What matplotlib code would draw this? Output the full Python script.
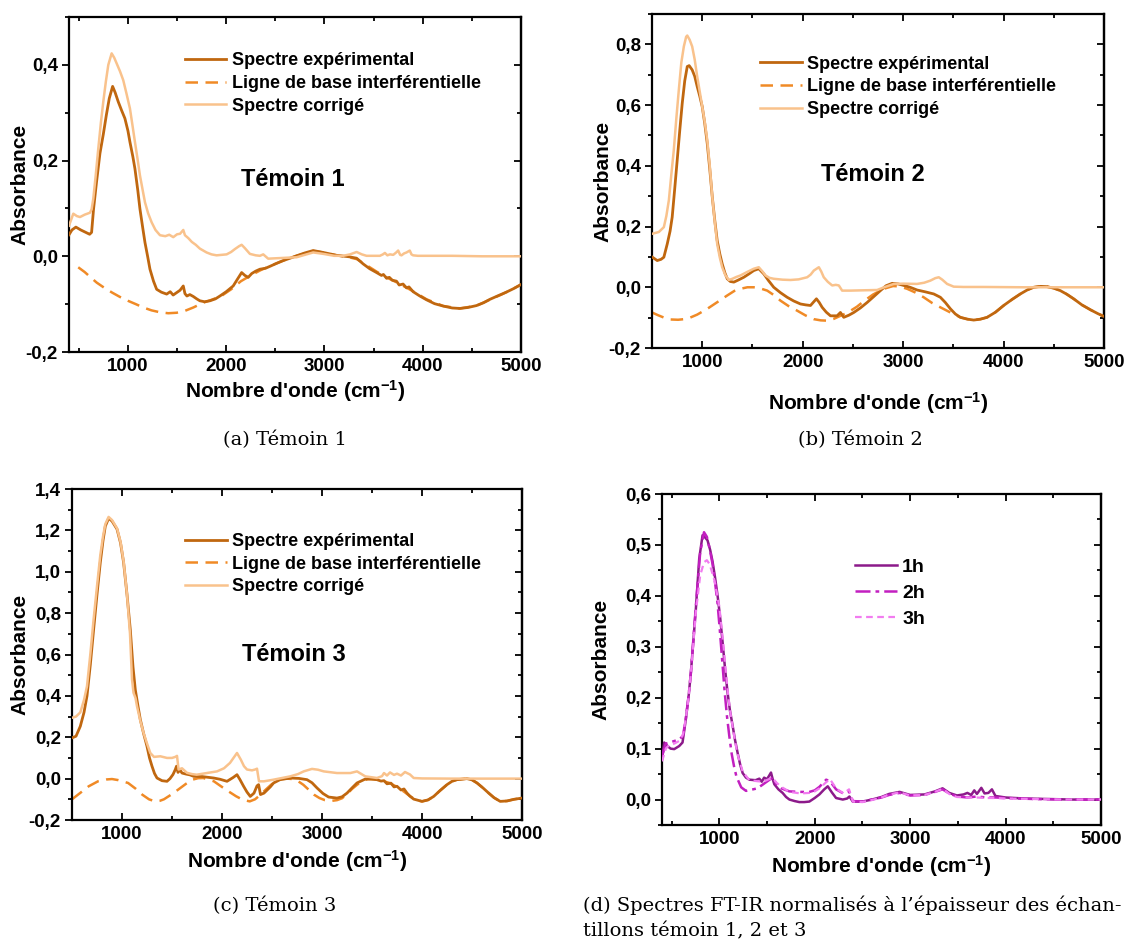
import numpy as np
import matplotlib
matplotlib.use('Agg')
import matplotlib.pyplot as plt
from matplotlib.ticker import MultipleLocator, FuncFormatter

plt.rcParams['font.family'] = ['Liberation Sans', 'DejaVu Sans']
plt.rcParams['font.weight'] = 'bold'
plt.rcParams['mathtext.fontset'] = 'custom'
plt.rcParams['mathtext.rm'] = 'Liberation Sans:bold'
plt.rcParams['mathtext.bf'] = 'Liberation Sans:bold'
plt.rcParams['mathtext.default'] = 'rm'

# ---- data: [wavenumber (cm-1), absorbance] ----
# (a) Temoin 1
a_exp = np.array([[400, 0.045], [430, 0.055], [470, 0.061], [520, 0.055], [570, 0.050], [610, 0.046], [630, 0.050],
    [650, 0.099], [680, 0.155], [715, 0.215], [750, 0.256], [780, 0.295], [810, 0.330], [844, 0.355], [870, 0.342],
    [901, 0.323], [935, 0.305], [969, 0.288], [1000, 0.262], [1020, 0.239], [1050, 0.208], [1071, 0.183],
    [1100, 0.138], [1122, 0.099], [1150, 0.060], [1173, 0.029], [1200, 0.000], [1224, -0.027], [1260, -0.052],
    [1292, -0.069], [1340, -0.075], [1394, -0.079], [1430, -0.074], [1460, -0.081], [1495, -0.076], [1530, -0.071],
    [1563, -0.062], [1580, -0.078], [1600, -0.083], [1630, -0.080], [1665, -0.084], [1700, -0.089], [1732, -0.093],
    [1780, -0.095], [1834, -0.093], [1890, -0.089], [1936, -0.083], [2000, -0.074], [2071, -0.062], [2120, -0.046],
    [2157, -0.034], [2190, -0.040], [2224, -0.044], [2260, -0.036], [2300, -0.031], [2343, -0.027], [2400, -0.025],
    [2445, -0.021], [2510, -0.015], [2580, -0.009], [2650, -0.004], [2716, 0.001], [2800, 0.007], [2885, 0.012],
    [2987, 0.008], [3123, 0.002], [3250, -0.001], [3327, -0.004], [3394, -0.016], [3460, -0.026], [3530, -0.034],
    [3580, -0.040], [3600, -0.038], [3632, -0.046], [3660, -0.044], [3690, -0.050], [3733, -0.052], [3760, -0.060],
    [3800, -0.058], [3835, -0.066], [3860, -0.064], [3902, -0.074], [3970, -0.083], [4039, -0.091], [4120, -0.099],
    [4208, -0.104], [4300, -0.108], [4377, -0.109], [4460, -0.107], [4547, -0.103], [4620, -0.097], [4683, -0.090],
    [4760, -0.083], [4850, -0.075], [4930, -0.067], [5000, -0.059]])
a_base = np.array([[494, -0.023], [560, -0.033], [620, -0.044], [682, -0.055], [760, -0.066], [840, -0.076],
    [919, -0.085], [1000, -0.093], [1080, -0.100], [1156, -0.107], [1240, -0.113], [1326, -0.117], [1410, -0.119],
    [1495, -0.118], [1580, -0.114], [1665, -0.107], [1766, -0.097], [1850, -0.091], [1950, -0.083], [2050, -0.069],
    [2150, -0.052], [2250, -0.040], [2350, -0.029], [2450, -0.020], [2580, -0.009], [2716, 0.001], [2885, 0.011],
    [2987, 0.008], [3123, 0.002], [3250, -0.002], [3330, -0.006], [3400, -0.015], [3530, -0.032], [3630, -0.044],
    [3730, -0.054], [3830, -0.065], [3900, -0.073], [4040, -0.090], [4210, -0.104], [4380, -0.109], [4550, -0.103],
    [4690, -0.090], [4800, -0.080], [4900, -0.070], [5000, -0.059]])
a_corr = np.array([[400, 0.064], [444, 0.089], [480, 0.084], [512, 0.082], [560, 0.087], [613, 0.091], [630, 0.098],
    [647, 0.120], [670, 0.165], [698, 0.225], [725, 0.280], [749, 0.323], [775, 0.365], [800, 0.400], [834, 0.424],
    [860, 0.415], [885, 0.403], [920, 0.386], [952, 0.368], [985, 0.340], [1020, 0.309], [1045, 0.275], [1071, 0.239],
    [1100, 0.200], [1122, 0.169], [1150, 0.138], [1173, 0.113], [1205, 0.090], [1241, 0.071], [1280, 0.055],
    [1326, 0.044], [1380, 0.042], [1420, 0.045], [1461, 0.040], [1500, 0.046], [1530, 0.047], [1563, 0.055],
    [1580, 0.044], [1614, 0.038], [1650, 0.030], [1690, 0.024], [1732, 0.016], [1800, 0.008], [1850, 0.004],
    [1902, 0.002], [2004, 0.004], [2050, 0.009], [2088, 0.015], [2130, 0.021], [2157, 0.024], [2190, 0.017],
    [2241, 0.005], [2300, 0.002], [2343, 0.001], [2377, 0.004], [2427, -0.005], [2520, -0.004], [2620, -0.003],
    [2716, -0.002], [2800, 0.003], [2885, 0.008], [2990, 0.005], [3100, 0.001], [3190, 0.001], [3260, 0.004],
    [3327, 0.009], [3380, 0.004], [3428, 0.001], [3564, 0.001], [3595, 0.004], [3615, 0.007], [3640, 0.002],
    [3666, 0.004], [3700, 0.003], [3730, 0.008], [3750, 0.012], [3770, 0.003], [3784, 0.002], [3810, 0.006],
    [3835, 0.008], [3868, 0.012], [3885, 0.004], [3902, 0.002], [3950, 0.001], [4100, 0.001], [4300, 0.001],
    [4600, 0.000], [5000, 0.000]])

# (b) Temoin 2
b_exp = np.array([[500, 0.100], [552, 0.088], [590, 0.092], [618, 0.099], [652, 0.143], [680, 0.185], [701, 0.231],
    [725, 0.320], [751, 0.419], [776, 0.515], [801, 0.606], [826, 0.680], [851, 0.727], [870, 0.730], [900, 0.716],
    [925, 0.695], [950, 0.661], [975, 0.630], [1000, 0.595], [1025, 0.540], [1050, 0.474], [1075, 0.390],
    [1100, 0.298], [1125, 0.220], [1149, 0.154], [1175, 0.110], [1199, 0.077], [1225, 0.048], [1249, 0.028],
    [1280, 0.019], [1315, 0.017], [1360, 0.024], [1414, 0.033], [1465, 0.044], [1513, 0.055], [1563, 0.061],
    [1613, 0.044], [1660, 0.022], [1712, 0.000], [1780, -0.018], [1846, -0.033], [1910, -0.045], [1978, -0.055],
    [2030, -0.058], [2078, -0.060], [2110, -0.048], [2137, -0.038], [2165, -0.050], [2194, -0.066], [2235, -0.082],
    [2277, -0.094], [2343, -0.094], [2376, -0.083], [2409, -0.099], [2460, -0.092], [2509, -0.083], [2575, -0.068],
    [2642, -0.050], [2710, -0.030], [2774, -0.011], [2830, 0.005], [2891, 0.013], [2950, 0.011], [3006, 0.006],
    [3070, 0.000], [3139, -0.009], [3220, -0.015], [3305, -0.022], [3371, -0.033], [3420, -0.050], [3471, -0.071],
    [3520, -0.088], [3570, -0.099], [3640, -0.105], [3703, -0.108], [3770, -0.105], [3836, -0.099], [3920, -0.082],
    [4001, -0.060], [4085, -0.040], [4167, -0.022], [4235, -0.009], [4300, 0.000], [4370, 0.003], [4433, 0.002],
    [4500, -0.003], [4565, -0.011], [4630, -0.023], [4698, -0.038], [4780, -0.058], [4870, -0.075], [4940, -0.087],
    [5000, -0.096]])
b_base = np.array([[500, -0.083], [560, -0.092], [620, -0.100], [680, -0.106], [760, -0.107], [851, -0.104],
    [950, -0.090], [1050, -0.071], [1150, -0.049], [1249, -0.027], [1320, -0.012], [1381, -0.005], [1450, 0.000],
    [1513, 0.000], [1580, -0.004], [1647, -0.011], [1710, -0.025], [1779, -0.044], [1860, -0.062], [1945, -0.077],
    [2030, -0.093], [2111, -0.105], [2180, -0.109], [2244, -0.110], [2310, -0.104], [2376, -0.094], [2450, -0.083],
    [2540, -0.064], [2620, -0.043], [2700, -0.024], [2807, -0.005], [2900, 0.004], [2960, 0.003], [3040, -0.005],
    [3120, -0.017], [3205, -0.033], [3290, -0.052], [3371, -0.066], [3471, -0.083], [3570, -0.099], [3640, -0.105],
    [3703, -0.108], [3770, -0.105], [3836, -0.099], [3920, -0.082], [4001, -0.060], [4085, -0.040], [4167, -0.022],
    [4235, -0.009], [4300, 0.000], [4370, 0.003], [4433, 0.002], [4500, -0.003], [4565, -0.011], [4630, -0.023],
    [4698, -0.038], [4780, -0.058], [4870, -0.075], [4940, -0.087], [5000, -0.096]])
b_corr = np.array([[500, 0.176], [568, 0.182], [618, 0.198], [643, 0.235], [668, 0.287], [692, 0.370], [717, 0.452],
    [742, 0.555], [767, 0.650], [792, 0.740], [817, 0.793], [840, 0.825], [851, 0.829], [875, 0.815], [900, 0.793],
    [925, 0.750], [950, 0.694], [975, 0.645], [1000, 0.595], [1025, 0.545], [1050, 0.485], [1075, 0.400],
    [1100, 0.298], [1125, 0.215], [1149, 0.143], [1175, 0.098], [1199, 0.066], [1230, 0.040], [1265, 0.024],
    [1300, 0.028], [1340, 0.034], [1381, 0.039], [1445, 0.050], [1513, 0.061], [1563, 0.066], [1600, 0.052],
    [1630, 0.039], [1670, 0.031], [1712, 0.028], [1800, 0.025], [1879, 0.024], [1960, 0.026], [2045, 0.033],
    [2080, 0.042], [2111, 0.055], [2161, 0.066], [2185, 0.052], [2210, 0.033], [2250, 0.018], [2294, 0.006],
    [2330, 0.008], [2360, 0.006], [2393, -0.011], [2476, -0.011], [2600, -0.010], [2741, -0.009], [2820, 0.001],
    [2907, 0.011], [3000, 0.012], [3139, 0.011], [3210, 0.015], [3272, 0.022], [3320, 0.030], [3355, 0.033],
    [3390, 0.025], [3438, 0.011], [3504, 0.002], [3600, 0.001], [3800, 0.001], [4200, 0.000], [5000, 0.000]])

# (c) Temoin 3
c_exp = np.array([[500, 0.197], [540, 0.205], [583, 0.253], [620, 0.320], [650, 0.400], [683, 0.550], [716, 0.720],
    [750, 0.890], [783, 1.045], [810, 1.150], [833, 1.220], [866, 1.258], [900, 1.245], [950, 1.206], [985, 1.140],
    [1016, 1.045], [1050, 0.890], [1083, 0.720], [1110, 0.540], [1133, 0.430], [1160, 0.350], [1183, 0.286],
    [1215, 0.220], [1250, 0.156], [1275, 0.100], [1300, 0.060], [1325, 0.025], [1350, 0.003], [1400, -0.010],
    [1450, -0.013], [1480, 0.000], [1510, 0.020], [1533, 0.044], [1545, 0.060], [1560, 0.030], [1580, 0.042],
    [1600, 0.027], [1640, 0.022], [1680, 0.018], [1717, 0.011], [1800, 0.010], [1916, 0.003], [1980, -0.003],
    [2050, -0.013], [2110, 0.005], [2150, 0.019], [2180, -0.005], [2216, -0.037], [2250, -0.065], [2283, -0.086],
    [2320, -0.070], [2350, -0.035], [2366, -0.029], [2385, -0.077], [2420, -0.070], [2483, -0.040], [2516, -0.021],
    [2580, -0.005], [2683, 0.003], [2770, 0.001], [2850, -0.005], [2900, -0.020], [2950, -0.045], [3010, -0.072],
    [3066, -0.089], [3150, -0.094], [3200, -0.088], [3250, -0.070], [3300, -0.045], [3350, -0.021], [3433, -0.002],
    [3490, -0.002], [3550, -0.005], [3590, -0.012], [3620, -0.010], [3650, -0.025], [3690, -0.022], [3720, -0.040],
    [3750, -0.037], [3790, -0.055], [3820, -0.050], [3850, -0.070], [3880, -0.085], [3917, -0.099], [4000, -0.110],
    [4060, -0.103], [4117, -0.086], [4180, -0.058], [4250, -0.029], [4300, -0.013], [4350, -0.005], [4450, 0.000],
    [4500, -0.006], [4550, -0.021], [4610, -0.045], [4667, -0.070], [4720, -0.092], [4782, -0.110], [4850, -0.108],
    [4920, -0.100], [5000, -0.094]])
c_base = np.array([[500, -0.100], [580, -0.070], [667, -0.037], [760, -0.013], [846, -0.004], [900, -0.002],
    [960, -0.007], [1061, -0.021], [1140, -0.050], [1204, -0.078], [1270, -0.100], [1329, -0.110], [1380, -0.107],
    [1419, -0.100], [1490, -0.078], [1562, -0.053], [1640, -0.025], [1705, -0.005], [1760, 0.002], [1812, 0.003],
    [1870, -0.005], [1919, -0.013], [1990, -0.037], [2063, -0.061], [2140, -0.085], [2206, -0.102], [2277, -0.110],
    [2330, -0.100], [2385, -0.078], [2440, -0.052], [2492, -0.029], [2540, -0.012], [2599, -0.002], [2650, 0.000],
    [2707, -0.002], [2760, -0.012], [2814, -0.030], [2870, -0.055], [2921, -0.078], [2975, -0.094], [3029, -0.104],
    [3090, -0.108], [3150, -0.104], [3200, -0.095], [3250, -0.075], [3300, -0.050], [3350, -0.030], [3400, -0.012],
    [3458, -0.002], [3520, -0.003], [3600, -0.010], [3680, -0.022], [3750, -0.040], [3820, -0.063], [3880, -0.085],
    [3940, -0.103], [4000, -0.110], [4060, -0.103], [4117, -0.086], [4180, -0.058], [4250, -0.029], [4300, -0.013],
    [4350, -0.005], [4450, 0.000], [4500, -0.006], [4550, -0.021], [4610, -0.045], [4667, -0.070], [4720, -0.092],
    [4782, -0.110], [4850, -0.108], [4920, -0.100], [5000, -0.094]])
c_corr = np.array([[500, 0.294], [540, 0.300], [583, 0.320], [620, 0.380], [650, 0.447], [683, 0.600], [716, 0.770],
    [750, 0.930], [783, 1.080], [810, 1.170], [833, 1.230], [866, 1.265], [900, 1.250], [950, 1.210], [985, 1.145],
    [1016, 1.050], [1050, 0.890], [1080, 0.700], [1100, 0.480], [1115, 0.415], [1135, 0.390], [1150, 0.350],
    [1183, 0.280], [1216, 0.220], [1250, 0.170], [1283, 0.124], [1320, 0.105], [1383, 0.108], [1450, 0.100],
    [1500, 0.100], [1533, 0.105], [1550, 0.110], [1566, 0.044], [1600, 0.050], [1650, 0.028], [1700, 0.022],
    [1747, 0.019], [1848, 0.027], [1950, 0.035], [2020, 0.050], [2080, 0.076], [2150, 0.124], [2188, 0.092],
    [2220, 0.060], [2250, 0.044], [2300, 0.040], [2331, 0.044], [2350, 0.048], [2370, -0.013], [2420, -0.013],
    [2516, -0.005], [2600, 0.003], [2683, 0.011], [2760, 0.022], [2817, 0.035], [2900, 0.047], [2960, 0.043],
    [3017, 0.035], [3150, 0.027], [3283, 0.027], [3350, 0.035], [3433, 0.011], [3550, 0.003], [3600, 0.012],
    [3620, 0.027], [3650, 0.015], [3680, 0.030], [3720, 0.018], [3750, 0.024], [3790, 0.015], [3830, 0.032],
    [3850, 0.027], [3880, 0.020], [3917, 0.003], [4000, 0.001], [4300, 0.000], [5000, 0.000]])

# (d) normalised spectra, 1h / 2h / 3h
d_1h = np.array([[400, 0.079], [423, 0.112], [458, 0.105], [490, 0.100], [528, 0.099], [580, 0.105], [615, 0.112],
    [650, 0.158], [680, 0.205], [703, 0.250], [730, 0.315], [755, 0.375], [790, 0.473], [825, 0.519], [850, 0.515],
    [877, 0.509], [905, 0.490], [930, 0.467], [955, 0.437], [982, 0.401], [1010, 0.356], [1035, 0.309],
    [1060, 0.258], [1087, 0.210], [1112, 0.175], [1140, 0.145], [1165, 0.117], [1192, 0.092], [1220, 0.068],
    [1245, 0.052], [1280, 0.043], [1315, 0.039], [1380, 0.038], [1420, 0.041], [1445, 0.035], [1470, 0.043],
    [1500, 0.040], [1520, 0.046], [1542, 0.053], [1560, 0.040], [1577, 0.030], [1620, 0.020], [1664, 0.013],
    [1700, 0.005], [1735, 0.000], [1790, -0.003], [1839, -0.005], [1890, -0.005], [1944, -0.004], [2000, 0.003],
    [2049, 0.010], [2100, 0.020], [2137, 0.026], [2180, 0.014], [2224, 0.003], [2294, 0.000], [2340, 0.002],
    [2364, 0.006], [2399, -0.004], [2500, -0.004], [2600, 0.000], [2700, 0.005], [2780, 0.011], [2890, 0.015],
    [3000, 0.009], [3150, 0.010], [3260, 0.016], [3340, 0.022], [3410, 0.013], [3490, 0.008], [3560, 0.010],
    [3600, 0.013], [3640, 0.009], [3672, 0.018], [3700, 0.011], [3746, 0.023], [3780, 0.012], [3820, 0.013],
    [3857, 0.020], [3894, 0.007], [4000, 0.004], [4200, 0.002], [4450, 0.001], [4700, 0.000], [5000, 0.000]])
d_2h = np.array([[400, 0.085], [440, 0.110], [480, 0.112], [530, 0.115], [580, 0.118], [620, 0.125], [650, 0.160],
    [680, 0.205], [703, 0.250], [730, 0.318], [755, 0.380], [800, 0.485], [840, 0.525], [870, 0.516], [900, 0.492],
    [930, 0.462], [955, 0.428], [982, 0.385], [1005, 0.335], [1030, 0.275], [1055, 0.215], [1080, 0.165],
    [1105, 0.125], [1130, 0.090], [1155, 0.065], [1180, 0.045], [1230, 0.024], [1280, 0.017], [1330, 0.019],
    [1400, 0.022], [1460, 0.030], [1520, 0.038], [1560, 0.043], [1600, 0.030], [1650, 0.022], [1735, 0.016],
    [1850, 0.015], [1944, 0.015], [2000, 0.018], [2050, 0.025], [2120, 0.039], [2160, 0.036], [2224, 0.020],
    [2300, 0.012], [2360, 0.016], [2400, -0.003], [2500, -0.004], [2600, 0.000], [2700, 0.004], [2780, 0.009],
    [2890, 0.013], [3000, 0.008], [3150, 0.009], [3260, 0.015], [3340, 0.020], [3410, 0.012], [3490, 0.006],
    [3600, 0.004], [3700, 0.006], [3800, 0.004], [3900, 0.004], [4000, 0.003], [4300, 0.001], [4600, 0.000],
    [5000, 0.000]])
d_3h = np.array([[400, 0.075], [440, 0.100], [480, 0.108], [530, 0.110], [580, 0.115], [620, 0.128], [650, 0.160],
    [680, 0.203], [703, 0.248], [730, 0.310], [755, 0.368], [800, 0.440], [840, 0.466], [870, 0.470], [900, 0.462],
    [950, 0.430], [1000, 0.380], [1040, 0.310], [1065, 0.258], [1090, 0.210], [1115, 0.172], [1140, 0.143],
    [1165, 0.115], [1190, 0.090], [1245, 0.055], [1315, 0.038], [1400, 0.036], [1460, 0.035], [1520, 0.040],
    [1560, 0.042], [1600, 0.033], [1650, 0.025], [1735, 0.015], [1850, 0.012], [1944, 0.013], [2000, 0.016],
    [2050, 0.022], [2120, 0.034], [2160, 0.040], [2224, 0.022], [2300, 0.012], [2360, 0.020], [2400, -0.004],
    [2500, -0.005], [2600, -0.001], [2700, 0.004], [2780, 0.010], [2890, 0.014], [3000, 0.008], [3150, 0.009],
    [3260, 0.015], [3340, 0.021], [3410, 0.011], [3490, 0.005], [3600, 0.004], [3700, 0.004], [3800, 0.003],
    [3900, 0.003], [4000, 0.002], [4300, 0.001], [4600, 0.000], [5000, 0.000]])

labels_abc = ['Spectre expérimental', 'Ligne de base interférentielle', 'Spectre corrigé']
labels_d = ['1h', '2h', '3h']

# colours
c_dark = '#c0670f'
c_base_col = '#f08a26'
c_light = '#f9c28c'
p_1h = '#8c1a8a'
p_2h = '#c21fc0'
p_3h = '#f27cf0'

W, H = 1129, 947
fig = plt.figure(figsize=(W / 100, H / 100), dpi=100)


def px_axes(l, t, r, b):
    return fig.add_axes([l / W, 1 - b / H, (r - l) / W, (b - t) / H])


comma = FuncFormatter(lambda v, p: ('%.1f' % v).replace('.', ','))


def style(ax, xlim, ylim, ymaj, ymin, ylab_x, xlab_y):
    ax.set_xlim(*xlim)
    ax.set_ylim(*ylim)
    ax.xaxis.set_major_locator(MultipleLocator(1000))
    ax.xaxis.set_minor_locator(MultipleLocator(500))
    ax.yaxis.set_major_locator(MultipleLocator(ymaj))
    ax.yaxis.set_minor_locator(MultipleLocator(ymin))
    ax.yaxis.set_major_formatter(comma)
    for s in ax.spines.values():
        s.set_linewidth(1.6)
    ax.tick_params(axis='x', which='both', direction='in', top=True, width=1.3, labelsize=13.5, pad=4)
    ax.tick_params(axis='y', which='both', direction='out', right=False, width=1.3, labelsize=13.5, pad=3)
    ax.tick_params(which='major', length=5)
    ax.tick_params(which='minor', length=3)
    sec = ax.secondary_yaxis('right')
    sec.yaxis.set_major_locator(MultipleLocator(ymaj))
    sec.yaxis.set_minor_locator(MultipleLocator(ymin))
    sec.tick_params(which='both', direction='in', labelright=False, width=1.3)
    sec.tick_params(which='major', length=5)
    sec.tick_params(which='minor', length=3)
    sec.spines['right'].set_linewidth(1.6)
    ax.set_ylabel('Absorbance', fontsize=15, fontweight='bold')
    ax.yaxis.set_label_coords(ylab_x, 0.5)
    ax.set_xlabel("Nombre d'onde (cm$^{-1}$)", fontsize=15, fontweight='bold')
    ax.xaxis.set_label_coords(0.5, xlab_y)


def three_curves(ax, exp, base, corr, leg_x, leg_y):
    l1, = ax.plot(exp[:, 0], exp[:, 1], color=c_dark, lw=2.0, zorder=3)
    l2, = ax.plot(base[:, 0], base[:, 1], color=c_base_col, lw=1.8, ls=(0, (5, 3)), zorder=2)
    l3, = ax.plot(corr[:, 0], corr[:, 1], color=c_light, lw=1.8, zorder=4)
    ax.legend([l1, l2, l3], labels_abc, loc='center left', bbox_to_anchor=(leg_x, leg_y), frameon=False,
              borderpad=0, borderaxespad=0, handlelength=2.3, handletextpad=0.3, labelspacing=0.32,
              prop={'family': 'Liberation Sans', 'weight': 'bold', 'size': 13})


# (a)
ax_a = px_axes(69, 17, 521, 352)
three_curves(ax_a, a_exp, a_base, a_corr, 0.2565, 0.802)
ax_a.text(2680, 0.160, 'Témoin 1', fontsize=17, fontweight='bold', ha='center', va='center')
style(ax_a, (400, 5000), (-0.2, 0.5), 0.2, 0.1, -0.088, -0.078)

# (b)
ax_b = px_axes(652, 14, 1104, 348)
three_curves(ax_b, b_exp, b_base, b_corr, 0.24, 0.782)
ax_b.text(2700, 0.37, 'Témoin 2', fontsize=17, fontweight='bold', ha='center', va='center')
style(ax_b, (500, 5000), (-0.2, 0.9), 0.2, 0.1, -0.088, -0.125)

# (c)
ax_c = px_axes(72, 489, 522, 820)
three_curves(ax_c, c_exp, c_base, c_corr, 0.252, 0.773)
ax_c.text(2720, 0.60, 'Témoin 3', fontsize=17, fontweight='bold', ha='center', va='center')
style(ax_c, (500, 5000), (-0.2, 1.4), 0.2, 0.1, -0.094, -0.085)

# (d)
ax_d = px_axes(662, 494, 1101, 825)
h1, = ax_d.plot(d_1h[:, 0], d_1h[:, 1], color=p_1h, lw=1.8, zorder=3)
h2, = ax_d.plot(d_2h[:, 0], d_2h[:, 1], color=p_2h, lw=1.8, ls=(0, (6, 2, 1.5, 2)), zorder=4)
h3, = ax_d.plot(d_3h[:, 0], d_3h[:, 1], color=p_3h, lw=1.6, ls=(0, (3, 2)), zorder=5)
ax_d.legend([h1, h2, h3], labels_d, loc='center left', bbox_to_anchor=(0.4385, 0.70), frameon=False,
            borderpad=0, borderaxespad=0, handlelength=2.2, handletextpad=0.25, labelspacing=0.43,
            prop={'family': 'Liberation Sans', 'weight': 'bold', 'size': 14})
style(ax_d, (400, 5000), (-0.05, 0.6), 0.1, 0.05, -0.118, -0.085)

# captions under each panel
cap = dict(family='DejaVu Serif', fontweight='normal', fontsize=14, va='center')
fig.text(285 / W, 1 - 440 / H, '(a) Témoin 1', ha='center', **cap)
fig.text(860 / W, 1 - 440 / H, '(b) Témoin 2', ha='center', **cap)
fig.text(275 / W, 1 - 906 / H, '(c) Témoin 3', ha='center', **cap)
fig.text(583 / W, 1 - 905 / H, '(d) Spectres FT-IR normalisés à l’épaisseur des échan-', ha='left', **cap)
fig.text(583 / W, 1 - 931 / H, 'tillons témoin 1, 2 et 3', ha='left', **cap)

fig.savefig('out.png', dpi=100)
